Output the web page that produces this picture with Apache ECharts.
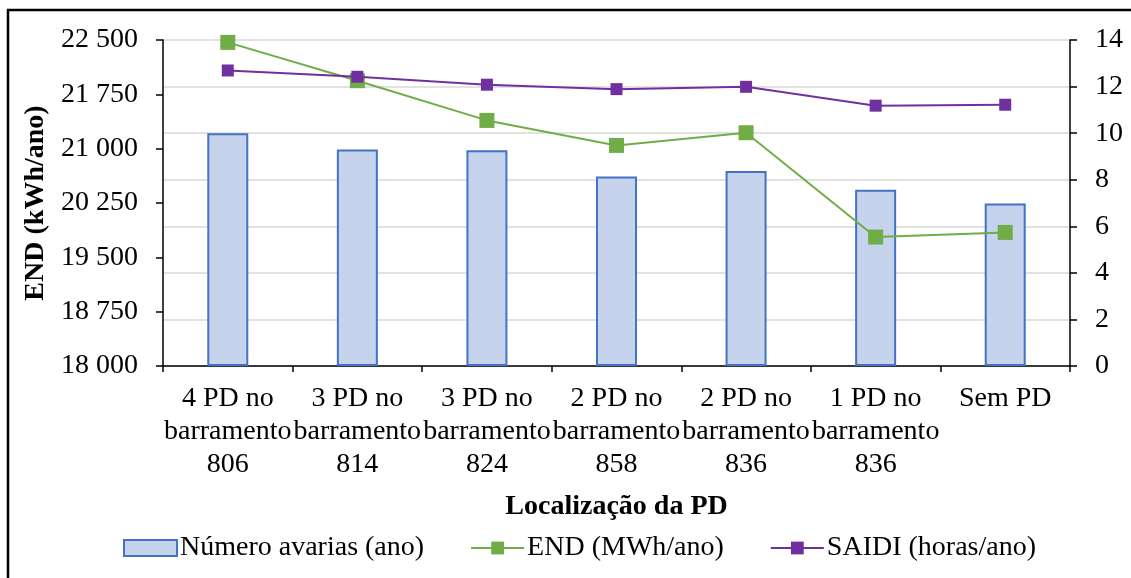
<!DOCTYPE html>
<html>
<head>
<meta charset="utf-8">
<script src="https://cdn.jsdelivr.net/npm/echarts@6/dist/echarts.min.js"></script>
<style>
  html, body { margin: 0; padding: 0; background: #fff; }
  #chart { width: 1131px; height: 578px; }
</style>
</head>
<body>
<div id="chart"></div>
<script>
// Locations of the distributed generation (PD)
const categories = [
  '4 PD no\nbarramento\n806',
  '3 PD no\nbarramento\n814',
  '3 PD no\nbarramento\n824',
  '2 PD no\nbarramento\n858',
  '2 PD no\nbarramento\n836',
  '1 PD no\nbarramento\n836',
  'Sem PD'
];
// Number of faults per year (right axis)
const avarias = [10.0, 9.3, 9.27, 8.14, 8.37, 7.57, 6.98];
// Energy not supplied (left axis)
const endValues = [22467, 21938, 21390, 21045, 21220, 19780, 19844];
// SAIDI, hours per year (right axis)
const saidi = [12.69, 12.42, 12.08, 11.89, 11.99, 11.18, 11.22];

const seriesNames = ['Número avarias (ano)', 'END (MWh/ano)', 'SAIDI (horas/ano)'];

const FONT = '"Liberation Serif", "Times New Roman", serif';
const FS = 28;

const chart = echarts.init(document.getElementById('chart'), null, { renderer: 'canvas' });

const thousands = v => {
  const s = String(Math.round(v));
  return s.replace(/\B(?=(\d{3})+(?!\d))/g, ' ');
};

chart.setOption({
  animation: false,
  backgroundColor: '#ffffff',
  textStyle: { fontFamily: FONT, color: '#000' },
  grid: { left: 163, right: 61, top: 40, bottom: 212, containLabel: false },
  legend: {
    left: 118,
    top: 529,
    itemWidth: 53,
    itemHeight: 16,
    itemGap: 46,
    textStyle: { fontFamily: FONT, fontSize: FS, color: '#000', padding: [0, 0, 0, -2] },
    data: [
      { name: seriesNames[0], icon: 'rect' },
      { name: seriesNames[1] },
      { name: seriesNames[2] }
    ]
  },
  xAxis: {
    type: 'category',
    data: categories,
    name: 'Localização da PD',
    nameLocation: 'middle',
    nameGap: 127,
    nameTextStyle: { fontFamily: FONT, fontSize: FS, fontWeight: 'bold', color: '#000' },
    axisLine: { lineStyle: { color: '#000', width: 1.5 } },
    axisTick: { show: true, length: 6, lineStyle: { color: '#000', width: 1.5 } },
    axisLabel: {
      fontFamily: FONT, fontSize: FS, color: '#000', lineHeight: 33,
      margin: 16, interval: 0
    },
    splitLine: { show: false }
  },
  yAxis: [
    {
      type: 'value',
      min: 18000,
      max: 22500,
      interval: 750,
      name: 'END (kWh/ano)',
      nameLocation: 'middle',
      nameGap: 113,
      nameRotate: 90,
      nameTextStyle: { fontFamily: FONT, fontSize: FS, fontWeight: 'bold', color: '#000' },
      axisLine: { show: true, lineStyle: { color: '#000', width: 1.5 } },
      axisTick: { show: true, length: 7, lineStyle: { color: '#000', width: 1.5 } },
      axisLabel: { fontFamily: FONT, fontSize: FS, color: '#000', margin: 25, formatter: thousands },
      splitLine: { show: false }
    },
    {
      type: 'value',
      min: 0,
      max: 14,
      interval: 2,
      position: 'right',
      axisLine: { show: true, lineStyle: { color: '#000', width: 1.5 } },
      axisTick: { show: true, length: 7, lineStyle: { color: '#000', width: 1.5 } },
      axisLabel: { fontFamily: FONT, fontSize: FS, color: '#000', margin: 25 },
      splitLine: { show: true, lineStyle: { color: '#D9D9D9', width: 1.5 } }
    }
  ],
  series: [
    {
      name: seriesNames[0],
      type: 'bar',
      yAxisIndex: 1,
      data: avarias,
      barWidth: 41,
      itemStyle: { color: '#C5D3EC', borderColor: '#4472C4', borderWidth: 2 },
      z: 2
    },
    {
      name: seriesNames[1],
      type: 'line',
      yAxisIndex: 0,
      data: endValues,
      symbol: 'rect',
      symbolSize: 15,
      lineStyle: { color: '#70AD47', width: 2 },
      itemStyle: { color: '#70AD47' },
      z: 3
    },
    {
      name: seriesNames[2],
      type: 'line',
      yAxisIndex: 1,
      data: saidi,
      symbol: 'rect',
      symbolSize: 12,
      lineStyle: { color: '#7030A0', width: 2 },
      itemStyle: { color: '#7030A0' },
      z: 4
    }
  ],
  graphic: [
    {
      type: 'polyline',
      shape: { points: [[8, 578], [8, 10], [1131, 10]] },
      style: { stroke: '#000', lineWidth: 2.5, fill: null },
      silent: true
    }
  ]
});
</script>
</body>
</html>
